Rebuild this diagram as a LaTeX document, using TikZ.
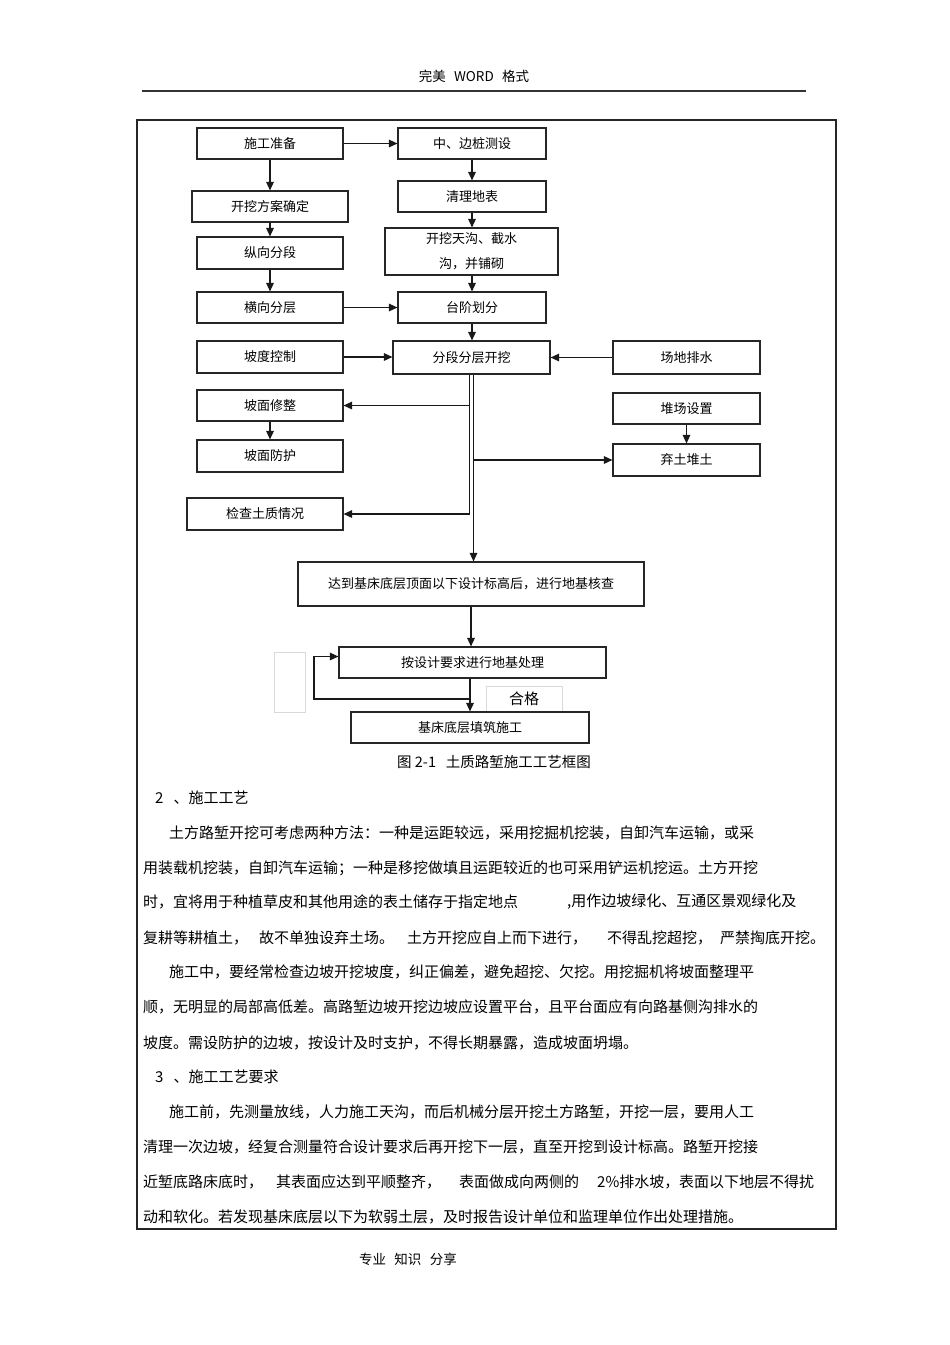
\documentclass[tikz,border=0pt]{standalone}
\usepackage{fontspec}
\setmainfont{Noto Sans CJK SC}
\usetikzlibrary{arrows.meta}
\begin{document}
\begin{tikzpicture}[x=1pt,y=-1pt,
  box/.style={draw=black!85, line width=1.1pt, inner sep=0pt, fill=white, font=\fontsize{13}{15}\selectfont},
  faint/.style={draw=black!15, line width=0.6pt, inner sep=0pt},
  arr/.style={-{Triangle[length=8.5pt,width=7.5pt]}, line width=1.3pt, draw=black!90},
  body/.style={anchor=west, inner sep=0pt, font=\fontsize{15}{18}\selectfont},
  small/.style={inner sep=0pt, font=\fontsize{13.5}{15}\selectfont}]
\useasboundingbox (0,0) rectangle (950,1345);
\fill[white] (0,0) rectangle (950,1345);

% header / footer
\node[small] (hd) at (474,76) {完美\ \ \,WORD\ \ \,格式};
\draw[line width=1.2pt, black!80] (142,91) -- (806,91);
\node[small] (ft) at (408,1259) {专业\ \ \,知识\ \ \,分享};

% frame
\draw[line width=1.2pt, black!85] (137,120) rectangle (836,1229);
\draw[line width=2pt, black!85] (137,120) -- (836,120);

% boxes
\node[box, minimum width=146, minimum height=31] (sg) at (270,143.5) {施工准备};
\node[box, minimum width=148, minimum height=31] (zb) at (472,143.5) {中、边桩测设};
\node[box, minimum width=156, minimum height=31] (fa) at (270,206.5) {开挖方案确定};
\node[box, minimum width=148, minimum height=31] (ql) at (472,196.5) {清理地表};
\node[box, minimum width=146, minimum height=32] (zx) at (270,253) {纵向分段};
\node[box, minimum width=173, minimum height=47, align=center, font=\fontsize{13}{25}\selectfont] (kw) at (471.5,251.5) {开挖天沟、截水\\沟，并铺砌};
\node[box, minimum width=146, minimum height=31] (hx) at (270,307.5) {横向分层};
\node[box, minimum width=148, minimum height=31] (tj) at (472,307.5) {台阶划分};
\node[box, minimum width=146, minimum height=32] (pd) at (270,357) {坡度控制};
\node[box, minimum width=157, minimum height=33] (fd) at (471.5,357.5) {分段分层开挖};
\node[box, minimum width=147, minimum height=33] (cd) at (686.5,357.5) {场地排水};
\node[box, minimum width=146, minimum height=31] (pm) at (270,405.5) {坡面修整};
\node[box, minimum width=147, minimum height=31] (dc) at (686.5,408.5) {堆场设置};
\node[box, minimum width=146, minimum height=32] (pf) at (270,456) {坡面防护};
\node[box, minimum width=147, minimum height=32] (qt) at (686.5,460) {弃土堆土};
\node[box, minimum width=156, minimum height=32] (jc) at (265,514) {检查土质情况};
\node[box, minimum width=346, minimum height=44] (dd) at (471,584) {达到基床底层顶面以下设计标高后，进行地基核查};
\node[box, minimum width=267, minimum height=31] (cl) at (472.5,662.5) {按设计要求进行地基处理};
\node[faint, minimum width=31, minimum height=60] (sm) at (289.5,682) {};
\node[faint, minimum width=76, minimum height=25, font=\fontsize{15}{17}\selectfont] (hg) at (524,698.5) {\raisebox{-4pt}{合格}};
\node[box, minimum width=238, minimum height=31] (jd) at (470,727.5) {基床底层填筑施工};

% connectors
\draw[arr] (sg) -- (zb);
\draw[arr] (sg) -- (fa);
\draw[arr] (fa) -- (zx);
\draw[arr] (zx) -- (hx);
\draw[arr] (zb) -- (ql);
\draw[arr] (ql.south) -- (ql.south |- kw.north);
\draw[arr] (kw.south -| tj.north) -- (tj.north);
\draw[arr] (hx) -- (tj);
\draw[arr] (tj.south) -- (tj.south |- fd.north);
\draw[arr] (pd.east) -- (pd.east -| fd.west);
\draw[arr] (cd.west) -- (cd.west -| fd.east);
\draw[arr] (pm) -- (pf);
\draw[arr] (dc) -- (qt);
\coordinate (fdA) at ([xshift=-2pt]fd.south);
\coordinate (fdB) at ([xshift=2pt]fd.south);
\draw[arr] (fdA) |- (pm.east);
\draw[arr] (fdA) |- (jc.east);
\draw[arr] (fdB) -- (fdB |- dd.north);
\draw[arr] (fdB |- qt.west) -- (qt.west);
\draw[arr] (dd.south) -- (dd.south |- cl.north);
\draw[arr] (cl.south -| jd.north) -- (jd.north);
\coordinate (lpA) at (470,699);
\coordinate (lpB) at (314,699);
\draw[arr] (lpA) -- (lpB) |- ([yshift=6pt]cl.west);

% caption
\node[inner sep=0pt, font=\fontsize{14.5}{16}\selectfont] (cap) at (494,762) {图\ 2-1\ \ \ 土质路堑施工工艺框图};

% body text
\node[body] (s2) at (155,798) {2\ \ \ 、施工工艺};
\node[body] (a1) at (169,833) {土方路堑开挖可考虑两种方法：一种是运距较远，采用挖掘机挖装，自卸汽车运输，或采};
\node[body] (a2) at (143,868) {用装载机挖装，自卸汽车运输；一种是移挖做填且运距较近的也可采用铲运机挖运。土方开挖};
\node[body] (a3) at (143,902) {时，宜将用于种植草皮和其他用途的表土储存于指定地点};
\node[body] (a3b) at (567,902) {,用作边坡绿化、互通区景观绿化及};
\node[body] (a4a) at (143,938) {复耕等耕植土，};
\node[body] (a4b) at (259,938) {故不单独设弃土场。};
\node[body] (a4c) at (407,938) {土方开挖应自上而下进行，};
\node[body] (a4d) at (607,938) {不得乱挖超挖，};
\node[body] (a4e) at (720,938) {严禁掏底开挖。};
\node[body] (b1) at (169,972) {施工中，要经常检查边坡开挖坡度，纠正偏差，避免超挖、欠挖。用挖掘机将坡面整理平};
\node[body] (b2) at (143,1007) {顺，无明显的局部高低差。高路堑边坡开挖边坡应设置平台，且平台面应有向路基侧沟排水的};
\node[body] (b3) at (143,1043) {坡度。需设防护的边坡，按设计及时支护，不得长期暴露，造成坡面坍塌。};
\node[body] (s3) at (155,1077) {3\ \ \ 、施工工艺要求};
\node[body] (c1) at (169,1112) {施工前，先测量放线，人力施工天沟，而后机械分层开挖土方路堑，开挖一层，要用人工};
\node[body] (c2) at (143,1147) {清理一次边坡，经复合测量符合设计要求后再开挖下一层，直至开挖到设计标高。路堑开挖接};
\node[body] (c3a) at (143,1182) {近堑底路床底时，};
\node[body] (c3b) at (276,1182) {其表面应达到平顺整齐，};
\node[body] (c3c) at (459,1182) {表面做成向两侧的};
\node[body] (c3d) at (597,1182) {2\%排水坡，};
\node[body] (c3e) at (679,1182) {表面以下地层不得扰};
\node[body] (c4) at (143,1217) {动和软化。若发现基床底层以下为软弱土层，及时报告设计单位和监理单位作出处理措施。};
\end{tikzpicture}
\end{document}
